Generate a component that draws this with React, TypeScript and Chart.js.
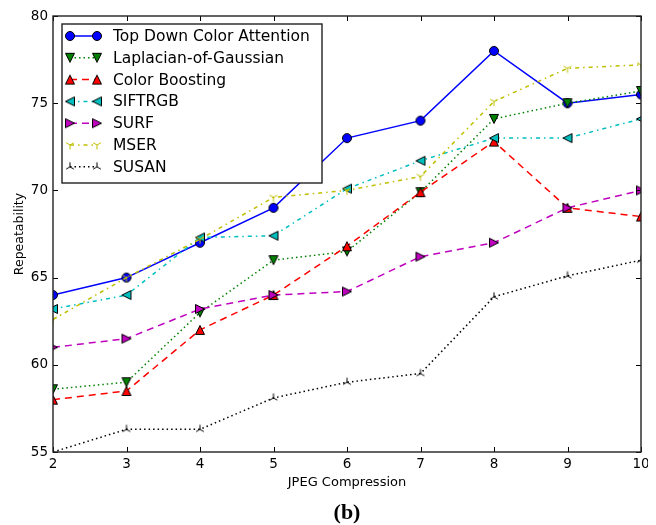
import React, { useEffect, useRef } from 'react';
import { Chart, registerables } from 'chart.js';

Chart.register(...registerables);

// ---- data ----
const compression = [2, 3, 4, 5, 6, 7, 8, 9, 10];
const topDownColorAttention = [64.0, 65.0, 67.0, 69.0, 73.0, 74.0, 78.0, 75.0, 75.5];
const laplacianOfGaussian = [58.6, 59.0, 63.0, 66.0, 66.5, 69.9, 74.1, 75.0, 75.7];
const colorBoosting = [58.0, 58.5, 62.0, 64.0, 66.8, 69.9, 72.8, 69.0, 68.5];
const siftRgb = [63.2, 64.0, 67.3, 67.4, 70.1, 71.7, 73.0, 73.0, 74.1];
const surf = [61.0, 61.5, 63.2, 64.0, 64.2, 66.2, 67.0, 69.0, 70.0];
const mser = [62.6, 65.0, 67.2, 69.6, 70.0, 70.8, 75.1, 77.0, 77.2];
const susan = [55.0, 56.3, 56.3, 58.1, 59.0, 59.5, 63.9, 65.1, 66.0];

const seriesNames = [
  'Top Down Color Attention',
  'Laplacian-of-Gaussian',
  'Color Boosting',
  'SIFTRGB',
  'SURF',
  'MSER',
  'SUSAN',
];
const seriesValues = [topDownColorAttention, laplacianOfGaussian, colorBoosting, siftRgb, surf, mser, susan];
const xTicks = [2, 3, 4, 5, 6, 7, 8, 9, 10];
const yTicks = [55, 60, 65, 70, 75, 80];
const xTitle = 'JPEG Compression';
const yTitle = 'Repeatability';
const caption = '(b)';

// ---- styles ----
const colors = ['#0000ff', '#008000', '#ff0000', '#00bfbf', '#bf00bf', '#bfbf00', '#000000'];
const markers = ['circle', 'tdown', 'tup', 'tleft', 'tright', 'tri_down', 'tri_up'];
const DOT = [1.5, 3];
const DASH = [7, 5];
const DASHDOT = [4, 4, 1.5, 4];
const dashes = [[], DOT, DASH, DASHDOT, DASH, DASHDOT, DOT];
const FONT = '"DejaVu Sans", sans-serif';

function makeMarker(kind: string, color: string): HTMLCanvasElement {
  const s = 14;
  const c = document.createElement('canvas');
  c.width = s;
  c.height = s;
  const g = c.getContext('2d') as CanvasRenderingContext2D;
  const cx = s / 2;
  const cy = s / 2;
  const r = 4.5;
  g.lineWidth = 1;
  g.strokeStyle = '#000';
  g.fillStyle = color;
  g.beginPath();
  if (kind === 'circle') {
    g.arc(cx, cy, r, 0, Math.PI * 2);
  } else if (kind === 'tup') {
    g.moveTo(cx, cy - r); g.lineTo(cx + r, cy + r); g.lineTo(cx - r, cy + r); g.closePath();
  } else if (kind === 'tdown') {
    g.moveTo(cx, cy + r); g.lineTo(cx + r, cy - r); g.lineTo(cx - r, cy - r); g.closePath();
  } else if (kind === 'tleft') {
    g.moveTo(cx - r, cy); g.lineTo(cx + r, cy - r); g.lineTo(cx + r, cy + r); g.closePath();
  } else if (kind === 'tright') {
    g.moveTo(cx + r, cy); g.lineTo(cx - r, cy - r); g.lineTo(cx - r, cy + r); g.closePath();
  } else if (kind === 'tri_down' || kind === 'tri_up') {
    const sgn = kind === 'tri_down' ? 1 : -1;
    g.strokeStyle = color;
    g.moveTo(cx, cy); g.lineTo(cx, cy + sgn * r);
    g.moveTo(cx, cy); g.lineTo(cx + 0.866 * r, cy - sgn * 0.5 * r);
    g.moveTo(cx, cy); g.lineTo(cx - 0.866 * r, cy - sgn * 0.5 * r);
    g.stroke();
    return c;
  }
  g.fill();
  g.stroke();
  return c;
}

export default function App() {
  const ref = useRef<HTMLCanvasElement>(null);

  useEffect(() => {
    if (!ref.current) return;
    const markerImgs = markers.map((m, i) => makeMarker(m, colors[i]));

    const overlay = {
      id: 'overlay',
      afterDraw(chart: any) {
        const { ctx, chartArea: a, scales } = chart;
        ctx.save();
        // inward ticks on all sides
        ctx.strokeStyle = '#000';
        ctx.lineWidth = 1;
        ctx.setLineDash([]);
        ctx.beginPath();
        for (const v of xTicks) {
          const px = Math.round(scales.x.getPixelForValue(v)) + 0.5;
          ctx.moveTo(px, a.bottom); ctx.lineTo(px, a.bottom - 5);
          ctx.moveTo(px, a.top); ctx.lineTo(px, a.top + 5);
        }
        for (const v of yTicks) {
          const py = Math.round(scales.y.getPixelForValue(v)) + 0.5;
          ctx.moveTo(a.left, py); ctx.lineTo(a.left + 5, py);
          ctx.moveTo(a.right, py); ctx.lineTo(a.right - 5, py);
        }
        ctx.stroke();
        // frame
        ctx.strokeStyle = '#222';
        ctx.lineWidth = 1.4;
        ctx.strokeRect(a.left, a.top, a.right - a.left, a.bottom - a.top);

        // legend
        const bx = a.left + 9;
        const by = a.top + 8;
        const bw = 260;
        const bh = 159;
        ctx.fillStyle = '#fff';
        ctx.fillRect(bx, by, bw, bh);
        ctx.strokeStyle = '#222';
        ctx.lineWidth = 1.4;
        ctx.strokeRect(bx, by, bw, bh);
        ctx.font = `15.5px ${FONT}`;
        ctx.textBaseline = 'middle';
        ctx.textAlign = 'left';
        seriesNames.forEach((name, i) => {
          const y = by + 12 + i * 21.8;
          const x0 = bx + 8;
          const x1 = bx + 35;
          ctx.save();
          ctx.strokeStyle = colors[i];
          ctx.lineWidth = 1.5;
          ctx.setLineDash(dashes[i]);
          ctx.beginPath();
          ctx.moveTo(x0, y);
          ctx.lineTo(x1, y);
          ctx.stroke();
          ctx.restore();
          const img = markerImgs[i];
          ctx.drawImage(img, x0 - img.width / 2, y - img.height / 2);
          ctx.drawImage(img, x1 - img.width / 2, y - img.height / 2);
          ctx.fillStyle = '#000';
          ctx.fillText(name, bx + 51, y + 1);
        });

        // caption
        ctx.font = 'bold 22px "Liberation Serif", serif';
        ctx.textAlign = 'center';
        ctx.textBaseline = 'middle';
        ctx.fillStyle = '#000';
        ctx.fillText(caption, (a.left + a.right) / 2, 505);
        ctx.restore();
      },
    };

    const chart = new Chart(ref.current, {
      type: 'line',
      data: {
        datasets: seriesNames.map((name, i) => ({
          label: name,
          data: compression.map((x, j) => ({ x, y: seriesValues[i][j] })),
          borderColor: colors[i],
          backgroundColor: colors[i],
          borderWidth: 1.5,
          borderDash: dashes[i],
          pointStyle: markerImgs[i],
          pointRadius: 4.5,
          pointHoverRadius: 4.5,
          tension: 0,
          fill: false,
          clip: 0,
          order: seriesNames.length - i,
        })),
      },
      options: {
        animation: false,
        responsive: true,
        maintainAspectRatio: false,
        layout: { padding: { top: 8, right: 7, bottom: 23, left: 0 } },
        plugins: {
          legend: { display: false },
          tooltip: { enabled: false },
        },
        scales: {
          x: {
            type: 'linear',
            min: 2,
            max: 10,
            grid: { display: false, drawTicks: false },
            border: { display: false },
            ticks: {
              stepSize: 1,
              maxRotation: 0,
              padding: 4,
              color: '#000',
              font: { family: FONT, size: 13.5 },
            },
            title: {
              display: true,
              text: xTitle,
              color: '#000',
              font: { family: FONT, size: 13 },
              padding: { top: 0, bottom: 11.5 },
            },
            afterFit: (s: any) => {
              s.height = 50;
              s.paddingLeft = 0;
              s.paddingRight = 0;
            },
          },
          y: {
            type: 'linear',
            min: 55,
            max: 80,
            grid: { display: false, drawTicks: false },
            border: { display: false },
            ticks: {
              stepSize: 5,
              padding: 5,
              color: '#000',
              font: { family: FONT, size: 13.5 },
            },
            title: {
              display: true,
              text: yTitle,
              color: '#000',
              font: { family: FONT, size: 12.5 },
              padding: { top: 4, bottom: 0 },
            },
            afterFit: (s: any) => {
              s.width = 45;
              s.paddingTop = 0;
              s.paddingBottom = 0;
            },
          },
        },
      },
      plugins: [overlay],
    });
    return () => chart.destroy();
  }, []);

  return (
    <div style={{ position: 'relative', width: '640px', height: '517px' }}>
      <canvas ref={ref} />
    </div>
  );
}
